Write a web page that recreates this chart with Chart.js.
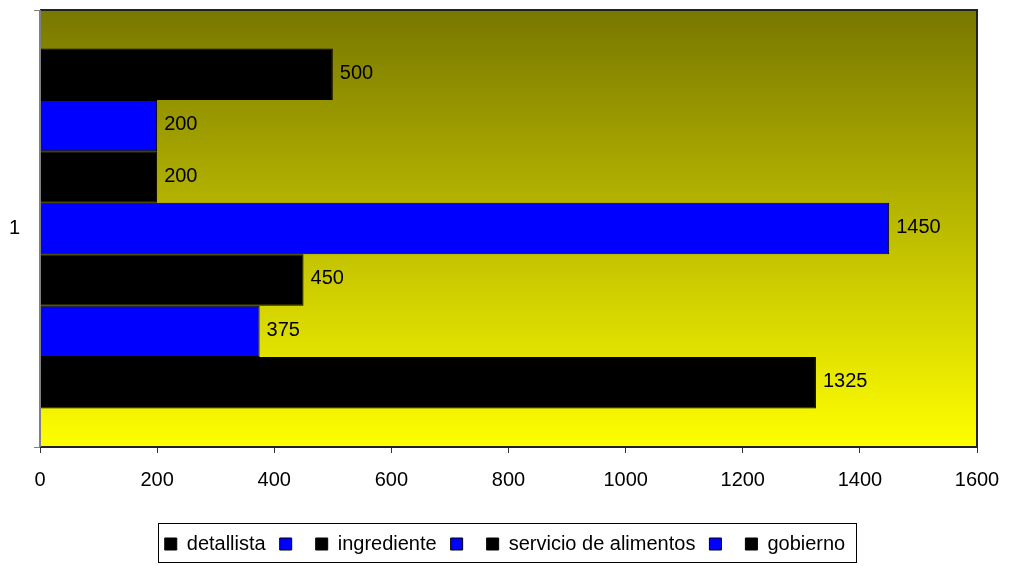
<!DOCTYPE html>
<html>
<head>
<meta charset="utf-8">
<script src="https://cdn.jsdelivr.net/npm/chart.js@4/dist/chart.umd.min.js"></script>
<style>
html,body{margin:0;padding:0;background:#fff;}
#wrap{width:1010px;height:566px;position:relative;}
</style>
</head>
<body>
<div id="wrap"><canvas id="c" width="1010" height="566"></canvas></div>
<script>
// Data (datasets listed top bar to bottom bar; legend shown reversed like the original)
const categories = ['1'];
const seriesNames = ['gobierno', '', 'servicio de alimentos', '', 'ingrediente', '', 'detallista'];
const seriesValues = [500, 200, 200, 1450, 450, 375, 1325];
const seriesColors = ['#000000', '#0000ff', '#000000', '#0000ff', '#000000', '#0000ff', '#000000'];
const xTicks = [0, 200, 400, 600, 800, 1000, 1200, 1400, 1600];

const FONT = "'Liberation Sans', Arial, sans-serif";
Chart.defaults.font.family = FONT;
Chart.defaults.font.size = 20;
Chart.defaults.color = '#000';

const datasets = seriesNames.map((name, i) => ({
  label: name,
  data: [seriesValues[i]],
  backgroundColor: seriesColors[i],
  borderColor: '#000',
  borderWidth: 1,
  barPercentage: 1,
  categoryPercentage: 0.824
}));

const bgPlugin = {
  id: 'bg',
  beforeDraw(chart) {
    const {ctx, chartArea: a} = chart;
    const g = ctx.createLinearGradient(0, a.top, 0, a.bottom);
    g.addColorStop(0, '#787700');
    g.addColorStop(1, '#ffff00');
    ctx.save();
    ctx.fillStyle = g;
    ctx.fillRect(a.left, a.top, a.right - a.left, a.bottom - a.top);
    ctx.restore();
  },
  afterDatasetsDraw(chart) {
    const {ctx, chartArea: a} = chart;
    ctx.save();
    ctx.strokeStyle = '#222';
    ctx.lineWidth = 2;
    ctx.beginPath();
    ctx.moveTo(a.left, a.top);
    ctx.lineTo(a.right, a.top);
    ctx.lineTo(a.right, a.bottom);
    ctx.lineTo(a.left, a.bottom);
    ctx.stroke();
    ctx.strokeStyle = '#808080';
    ctx.beginPath();
    ctx.moveTo(a.left, a.top);
    ctx.lineTo(a.left, a.bottom);
    ctx.stroke();
    ctx.fillStyle = '#000';
    ctx.font = "20px " + FONT;
    ctx.textBaseline = 'middle';
    ctx.textAlign = 'left';
    chart.data.datasets.forEach((ds, i) => {
      const meta = chart.getDatasetMeta(i);
      meta.data.forEach((bar, j) => {
        ctx.fillText(String(ds.data[j]), bar.x + 7, bar.y - 1);
      });
    });
    ctx.restore();
  },
  afterDraw(chart) {
    const lg = chart.legend;
    if (!lg || !lg.legendHitBoxes || !lg.legendHitBoxes.length) return;
    const hb = lg.legendHitBoxes;
    let l = Infinity, r = -Infinity;
    hb.forEach(h => { l = Math.min(l, h.left); r = Math.max(r, h.left + h.width); });
    const ctx = chart.ctx;
    ctx.save();
    ctx.strokeStyle = '#000';
    ctx.lineWidth = 1;
    ctx.strokeRect(Math.round(l - 7) + 0.5, 523.5, Math.round(r - l + 18), 39);
    ctx.restore();
  }
};

new Chart(document.getElementById('c'), {
  type: 'bar',
  data: { labels: categories, datasets },
  options: {
    indexAxis: 'y',
    responsive: false,
    animation: false,
    devicePixelRatio: 1,
    layout: { padding: { top: 10, right: 0, bottom: 2, left: 0 } },
    scales: {
      x: {
        min: 0, max: 1600,
        afterBuildTicks(scale) { scale.ticks = xTicks.map(v => ({ value: v })); },
        ticks: { padding: 15, font: { size: 20 }, color: '#000', callback: (v) => String(v) },
        grid: { drawOnChartArea: false, tickLength: 6, color: '#333', tickColor: '#333' },
        border: { display: false },
        afterFit(scale) { scale.height = 73; scale.paddingLeft = 0; scale.paddingRight = 33; }
      },
      y: {
        offset: true,
        ticks: { padding: 14, font: { size: 20 }, color: '#000' },
        grid: { offset: true, drawOnChartArea: false, tickLength: 6, color: '#808080', tickColor: '#808080' },
        border: { display: false },
        afterFit(scale) { scale.width = 40; scale.paddingTop = 0; scale.paddingBottom = 0; }
      }
    },
    plugins: {
      legend: {
        position: 'bottom',
        reverse: true,
        labels: { boxWidth: 12, boxHeight: 12, padding: 14, font: { size: 20 }, color: '#000' }
      },
      tooltip: { enabled: false }
    }
  },
  plugins: [bgPlugin]
});
</script>
</body>
</html>
